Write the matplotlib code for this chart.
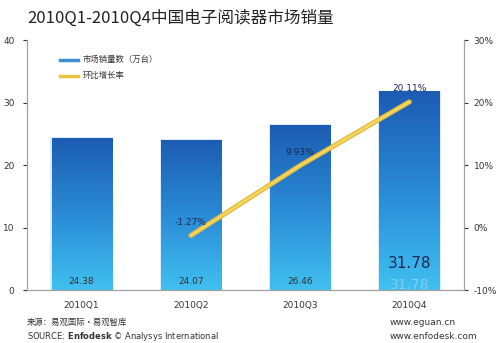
import numpy as np
import matplotlib.pyplot as plt
from matplotlib.colors import LinearSegmentedColormap
from matplotlib.patches import Rectangle

plt.rcParams['font.family'] = ['Noto Sans CJK SC', 'DejaVu Sans']

# data
quarters = ['2010Q1', '2010Q2', '2010Q3', '2010Q4']
sales = [24.38, 24.07, 26.46, 31.78]          # 万台
growth = [None, -1.27, 9.93, 20.11]            # 环比增长率 %
sales_labels = ['24.38', '24.07', '26.46', '31.78']
growth_labels = ['', '-1.27%', '9.93%', '20.11%']

fig = plt.figure(figsize=(5, 3.43), dpi=100)
ax = fig.add_axes([0.054, 0.1545, 0.874, 0.7285])
ax2 = ax.twinx()

x = np.arange(len(quarters))
w = 0.55
cmap = LinearSegmentedColormap.from_list('bar', ['#40c0f0', '#2a8ad6', '#1c5cb2'])
grad = np.linspace(0, 1, 256).reshape(-1, 1)

ax.set_xlim(-0.5, 3.5)
ax.set_ylim(0, 40)
for xi, v in zip(x, sales):
    # soft halo
    ax.add_patch(Rectangle((xi - w / 2 - 0.012, 0), w + 0.024, v + 0.15,
                           facecolor='#dcedf9', edgecolor='none', zorder=1))
    bar = Rectangle((xi - w / 2, 0), w, v, facecolor='none', edgecolor='none', zorder=2)
    ax.add_patch(bar)
    im = ax.imshow(grad, cmap=cmap, aspect='auto', origin='lower',
                   extent=(xi - w / 2, xi + w / 2, 0, v), zorder=2)
    im.set_clip_path(bar)

for xi, lab in zip(x[:3], sales_labels[:3]):
    ax.text(xi, 1.3, lab, ha='center', va='center', fontsize=6.5, color='#333333',
            family='DejaVu Sans', zorder=5)
ax.text(x[3], 4.2, sales_labels[3], ha='center', va='center', fontsize=11,
        color='#1a2a55', family='DejaVu Sans', zorder=5)
# faint reflection under the big label
ax.text(x[3], 0.8, sales_labels[3], ha='center', va='center', fontsize=10,
        color='#a8dcf6', family='DejaVu Sans', zorder=4, alpha=0.6)

ax.set_xticks(x)
ax.set_xticklabels(quarters, fontsize=6.5, color='#333333', family='DejaVu Sans')
ax.tick_params(axis='x', length=0, pad=8)
ax.set_yticks([0, 10, 20, 30, 40])
ax.tick_params(axis='y', labelsize=6.5, colors='#333333', length=3, direction='out', pad=6)
for t in ax.get_yticklabels():
    t.set_family('DejaVu Sans')

ax2.set_ylim(-10, 30)
ax2.set_yticks([-10, 0, 10, 20, 30])
ax2.set_yticklabels(['-10%', '0%', '10%', '20%', '30%'], fontsize=6.5,
                    color='#333333', family='DejaVu Sans')
ax2.tick_params(axis='y', length=3, colors='#333333', pad=4)

gx = x[1:]
gy = growth[1:]
ax2.plot(gx, gy, color='#e2b93a', lw=3.6, solid_capstyle='round', zorder=6)
ax2.plot(gx, gy, color='#f3d660', lw=1.8, solid_capstyle='round', zorder=6)
for xi, yi, lab in zip(gx, gy, growth_labels[1:]):
    ax2.text(xi, yi + 1.4, lab, ha='center', va='bottom', fontsize=6.5,
             color='#1a2a55', family='DejaVu Sans', zorder=7)

for a in (ax, ax2):
    for s in a.spines.values():
        s.set_color('#a0a0a0')
        s.set_linewidth(0.8)
    a.spines['top'].set_visible(False)

# legend
fig.add_artist(plt.Line2D([0.12, 0.155], [0.826, 0.826], color='#3c8fd0', lw=2.5))
fig.text(0.166, 0.826, '市场销量数（万台）', fontsize=6, va='center', color='#333333')
fig.add_artist(plt.Line2D([0.12, 0.155], [0.779, 0.779], color='#edc440', lw=2.5))
fig.text(0.166, 0.779, '环比增长率', fontsize=6, va='center', color='#333333')

fig.text(0.054, 0.948, '2010Q1-2010Q4中国电子阅读器市场销量', fontsize=12,
         color='#222222', va='center')

fig.text(0.054, 0.06, '来源：易观国际·易观智库', fontsize=6, color='#333333', va='center')
fig.text(0.054, 0.018, 'SOURCE: $\\bf{Enfodesk}$ © Analysys International', fontsize=6,
         color='#333333', va='center', family='DejaVu Sans')
fig.text(0.78, 0.06, 'www.eguan.cn', fontsize=6.5, color='#333333', va='center',
         family='DejaVu Sans')
fig.text(0.78, 0.018, 'www.enfodesk.com', fontsize=6.5, color='#333333', va='center',
         family='DejaVu Sans')

fig.savefig('out.png', dpi=100)
